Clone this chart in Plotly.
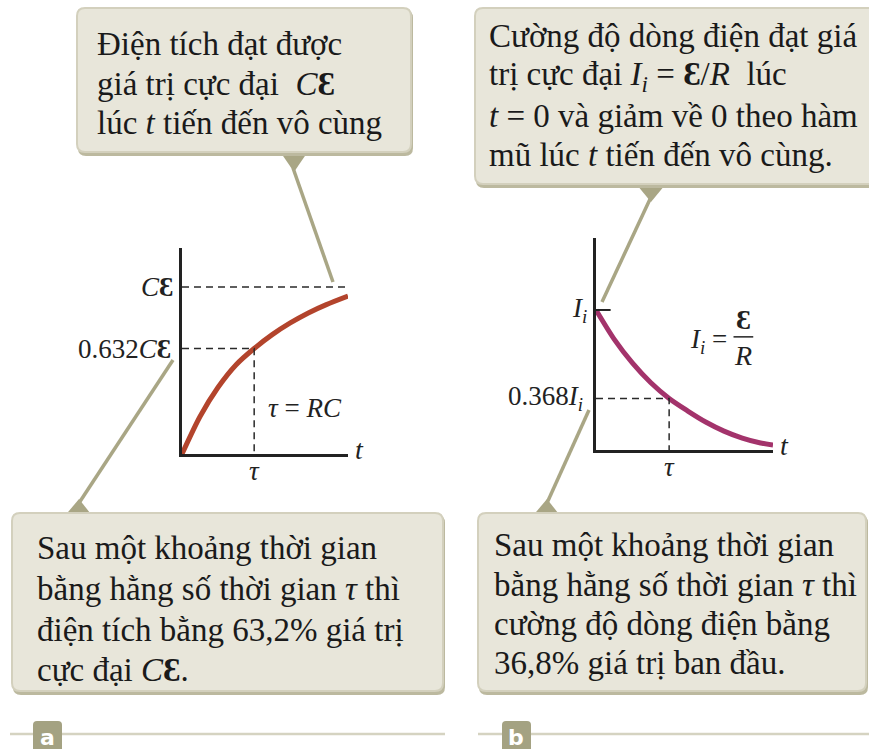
import plotly.graph_objects as go

# ---- data (time in units of tau) ----
t_charge = [0, 0.25, 0.5, 0.75, 1.0, 1.25, 1.5, 1.75, 2.0, 2.3]
q_charge = [0, 0.225, 0.40, 0.535, 0.632, 0.715, 0.785, 0.845, 0.895, 0.946]   # q / (C*emf)

t_dis = [0, 0.25, 0.5, 0.75, 1.0, 1.25, 1.5, 1.75, 2.0, 2.25, 2.42]
i_dis = [1.0, 0.79, 0.62, 0.48, 0.368, 0.28, 0.20, 0.135, 0.085, 0.05, 0.036]  # i / I_i

q_max = 1.0
q_tau = 0.632
i_max = 1.0
i_tau = 0.368
tau = 1.0

note_a_top = ["Điện tích đạt được",
              "giá trị cực đại  <i>C</i><b>Ɛ</b>",
              "lúc <i>t</i> tiến đến vô cùng"]
note_b_top = ["Cường độ dòng điện đạt giá",
              "trị cực đại <i>I<sub>i</sub></i> = <b>Ɛ</b>/<i>R</i>  lúc",
              "<i>t</i> = 0 và giảm về 0 theo hàm",
              "mũ lúc <i>t</i> tiến đến vô cùng."]
note_a_bot = ["Sau một khoảng thời gian",
              "bằng hằng số thời gian <i>τ</i> thì",
              "điện tích bằng 63,2% giá trị",
              "cực đại <i>C</i><b>Ɛ</b>."]
note_b_bot = ["Sau một khoảng thời gian",
              "bằng hằng số thời gian <i>τ</i> thì",
              "cường độ dòng điện bằng",
              "36,8% giá trị ban đầu."]

SERIF = "Times"
INK = "#1a1a1a"
BOX_FILL = "#e8e6da"
BOX_EDGE = "#d3d0bd"
BOX_SHADOW = "#bcb99f"
TAIL = "#a9a685"
RED = "#b3442c"
PURPLE = "#a3336b"

W, H = 869, 749

fig = go.Figure()

# ---- curves ----
fig.add_trace(go.Scatter(x=t_charge, y=q_charge, mode="lines", xaxis="x2", yaxis="y2",
                         line=dict(color=RED, width=5, shape="spline", smoothing=0.8),
                         hoverinfo="skip"))
fig.add_trace(go.Scatter(x=t_dis, y=i_dis, mode="lines", xaxis="x3", yaxis="y3",
                         line=dict(color=PURPLE, width=5, shape="spline", smoothing=0.8),
                         hoverinfo="skip"))

# ---- dashed guides ----
dash = dict(color="#2a2a2a", width=1.5, dash="7px,5px")
fig.add_trace(go.Scatter(x=[0, t_charge[-1]], y=[q_max, q_max], mode="lines",
                         xaxis="x2", yaxis="y2", line=dash, hoverinfo="skip"))
fig.add_trace(go.Scatter(x=[0, tau, tau], y=[q_tau, q_tau, 0], mode="lines",
                         xaxis="x2", yaxis="y2", line=dash, hoverinfo="skip"))
fig.add_trace(go.Scatter(x=[0, tau, tau], y=[i_tau, i_tau, 0], mode="lines",
                         xaxis="x3", yaxis="y3", line=dash, hoverinfo="skip"))

# ---- callout boxes, drawn in pixel space on the overlay axes ----
def rrect(x0, y0, x1, y1, r):
    return (f"M{x0+r},{y0} L{x1-r},{y0} Q{x1},{y0} {x1},{y0+r} L{x1},{y1-r} "
            f"Q{x1},{y1} {x1-r},{y1} L{x0+r},{y1} Q{x0},{y1} {x0},{y1-r} "
            f"L{x0},{y0+r} Q{x0},{y0} {x0+r},{y0} Z")

shapes = []

def box(x0, y0, x1, y1):
    shapes.append(dict(type="path", xref="x", yref="y", path=rrect(x0 + 1, y0 + 2, x1 + 2, y1 + 4, 8),
                       fillcolor=BOX_SHADOW, line=dict(width=0), layer="above"))
    shapes.append(dict(type="path", xref="x", yref="y", path=rrect(x0, y0, x1, y1, 8),
                       fillcolor=BOX_FILL, line=dict(color=BOX_EDGE, width=2), layer="above"))

def tail(tri, seg):
    (ax, ay), (bx, by), (cx, cy) = tri
    shapes.append(dict(type="path", xref="x", yref="y",
                       path=f"M{ax},{ay} L{bx},{by} L{cx},{cy} Z",
                       fillcolor=TAIL, line=dict(width=0), layer="above"))
    shapes.append(dict(type="line", xref="x", yref="y", x0=seg[0], y0=seg[1], x1=seg[2], y1=seg[3],
                       line=dict(color=TAIL, width=3.5), layer="above"))

tail([(279, 150), (309, 150), (294, 172)], (293, 168, 333, 282))
tail([(637, 185), (665, 185), (651, 202)], (651, 197, 602, 302))
tail([(63, 518), (94, 518), (79, 499)], (79, 503, 173, 360))
tail([(531, 518), (562, 518), (547, 499)], (547, 503, 589, 410))

box(77, 8, 411, 152)
box(475, 8, 880, 184)
box(12, 513, 443, 691)
box(478, 513, 866, 691)

# bottom rules with panel tags
rule = dict(color="#d5d3c1", width=2.5)
shapes.append(dict(type="line", xref="x", yref="y", x0=10, y0=734, x1=445, y1=734, line=rule))
shapes.append(dict(type="line", xref="x", yref="y", x0=478, y0=734, x1=869, y1=734, line=rule))
for x0 in (33, 502):
    shapes.append(dict(type="path", xref="x", yref="y", path=rrect(x0, 721, x0 + 29, 756, 4),
                       fillcolor="#a4a282", line=dict(width=0)))

# I_i tick on the current axis
shapes.append(dict(type="line", xref="x3", yref="y3", x0=0, x1=0.2, y0=i_max, y1=i_max,
                   line=dict(color="#222", width=2)))
# fraction bar of I_i = emf / R
frac_y = 0.808
shapes.append(dict(type="line", xref="x3", yref="y3", x0=1.88, x1=2.15, y0=frac_y, y1=frac_y,
                   line=dict(color="#222", width=1.5)))

ann = []

def note(x, ys, lines, size=33):
    for y, text in zip(ys, lines):
        ann.append(dict(x=x, y=y, xref="x", yref="y", text=text, showarrow=False,
                        xanchor="left", yanchor="middle", align="left",
                        font=dict(family=SERIF, size=size, color=INK)))

note(95, [44, 84, 123], note_a_top)
note(487, [36, 76, 116, 155], note_b_top)
note(35, [548, 589, 630, 670], note_a_bot)
note(492, [545, 585, 624, 663], note_b_bot)

for x, lab in ((47.5, "a"), (516, "b")):
    ann.append(dict(x=x, y=737, xref="x", yref="y", text=f"<b>{lab}</b>", showarrow=False,
                    font=dict(family="DejaVu Sans", size=22, color="white")))

def lab(x, y, text, xr, yr, size=27, xanchor="center", yanchor="middle", xs=0, ys=0):
    ann.append(dict(x=x, y=y, xref=xr, yref=yr, text=text, showarrow=False,
                    xanchor=xanchor, yanchor=yanchor, xshift=xs, yshift=ys, borderpad=0,
                    font=dict(family=SERIF, size=size, color="#222")))

# chart a labels
lab(0, 1.353, "<i>q</i>", "x2", "y2", size=28)
lab(0, q_max, "<i>C</i><b>Ɛ</b>", "x2", "y2", xanchor="right", xs=-8)
lab(0, q_tau, "0.632<i>C</i><b>Ɛ</b>", "x2", "y2", xanchor="right", xs=-10)
lab(1.18, 0.275, "<i>τ</i> = <i>RC</i>", "x2", "y2", xanchor="left")
lab(tau, 0, "<i>τ</i>", "x2", "y2", yanchor="top", ys=-1)
lab(t_charge[-1], 0, "<i>t</i>", "x2", "y2", xanchor="left", xs=6, ys=5, size=28)

# chart b labels
lab(0, 1.64, "<i>i</i>", "x3", "y3", size=28)
lab(0, i_max, "<i>I<sub>i</sub></i>", "x3", "y3", xanchor="right", xs=-8)
lab(0, i_tau, "0.368<i>I<sub>i</sub></i>", "x3", "y3", xanchor="right", xs=-12)
lab(tau, 0, "<i>τ</i>", "x3", "y3", yanchor="top", ys=-1)
lab(t_dis[-1], 0, "<i>t</i>", "x3", "y3", xanchor="left", xs=6, ys=5, size=28)
lab(1.80, 0.775, "<i>I<sub>i</sub></i> =", "x3", "y3", xanchor="right")
lab(2.015, frac_y, "<b>Ɛ</b>", "x3", "y3", size=28, yanchor="bottom", ys=1)
lab(2.015, frac_y, "<i>R</i>", "x3", "y3", size=28, yanchor="top", ys=-2)

def px_x(p):
    return p / W

def px_y(p):
    return 1 - p / H

axis_common = dict(showgrid=False, zeroline=False, showticklabels=False, ticks="",
                   showline=True, linecolor="#222", linewidth=2.5, fixedrange=True)

fig.update_layout(
    width=W, height=H, margin=dict(l=0, r=0, t=0, b=0),
    paper_bgcolor="white", plot_bgcolor="rgba(0,0,0,0)", showlegend=False,
    xaxis=dict(domain=[0, 1], range=[0, W], visible=False, fixedrange=True),
    yaxis=dict(domain=[0, 1], range=[H, 0], visible=False, fixedrange=True),
    xaxis2=dict(domain=[px_x(182), px_x(348)], range=[0, t_charge[-1]], anchor="y2", **axis_common),
    yaxis2=dict(domain=[px_y(454), px_y(248)], range=[0, 1.234], anchor="x2", **axis_common),
    xaxis3=dict(domain=[px_x(596), px_x(773)], range=[0, t_dis[-1]], anchor="y3", **axis_common),
    yaxis3=dict(domain=[px_y(450), px_y(238)], range=[0, 1.514], anchor="x3", **axis_common),
    shapes=shapes, annotations=ann,
)

fig.write_html("out.html")
